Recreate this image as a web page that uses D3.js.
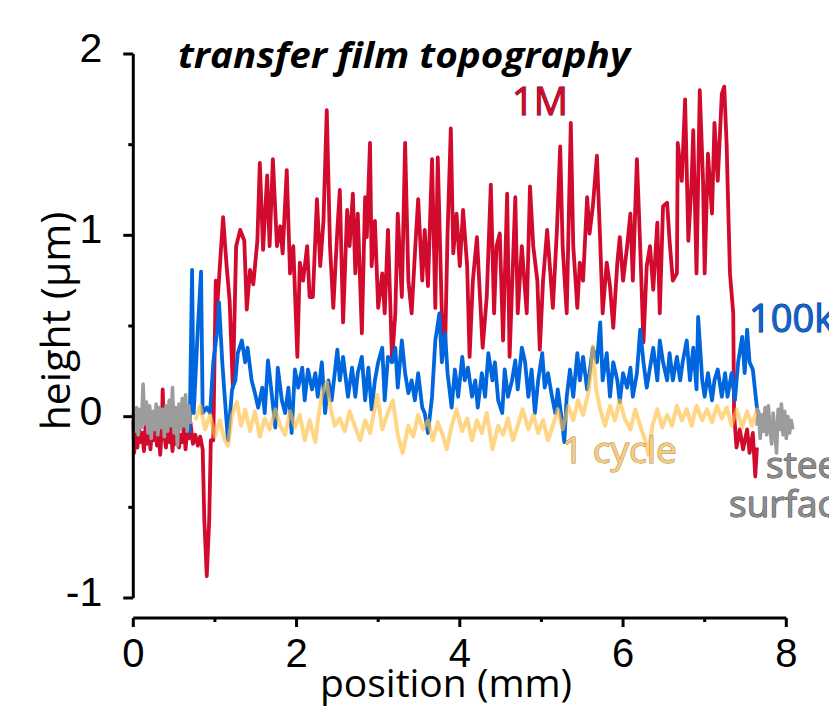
<!DOCTYPE html>
<html><head><meta charset="utf-8">
<script src="https://cdn.jsdelivr.net/npm/d3@7"></script>
<style>html,body{margin:0;padding:0;background:#fff;}svg{display:block;}</style>
</head><body>
<script>
// ---- data (position in mm, height in µm) ----
const xTicks = [0, 2, 4, 6, 8];
const xMinorTicks = [1, 3, 5, 7];
const yTicks = [-1, 0, 1, 2];
const yMinorTicks = [-0.5, 0.5, 1.5];

const series1M = [
[0.00,-0.02],[0.01,-0.20],[0.03,-0.08],[0.05,-0.17],[0.07,-0.06],[0.09,-0.14],[0.11,-0.09],[0.13,-0.19],[0.15,-0.05],[0.17,-0.15],
[0.19,-0.08],[0.21,-0.18],[0.23,-0.07],[0.25,-0.13],[0.27,-0.04],[0.29,-0.16],[0.31,-0.09],[0.33,-0.21],[0.35,-0.06],[0.36,0.15],
[0.38,-0.10],[0.40,-0.17],[0.42,-0.08],[0.44,-0.14],[0.46,-0.06],[0.48,-0.19],[0.50,-0.09],[0.52,-0.15],[0.54,-0.04],[0.56,-0.17],
[0.58,-0.10],[0.60,-0.14],[0.62,-0.06],[0.64,-0.18],[0.66,-0.08],[0.68,-0.12],[0.70,-0.03],[0.73,-0.15],[0.76,-0.10],[0.79,-0.16],
[0.82,-0.11],[0.85,-0.18],[0.87,-0.57],[0.90,-0.88],
[0.93,-0.57],[0.95,-0.13],[0.98,-0.13],[1.01,0.75],[1.03,0.62],[1.10,1.10],[1.14,0.85],[1.18,0.64],[1.22,0.16],[1.26,0.94],
[1.31,1.03],[1.36,0.97],[1.39,0.59],[1.43,0.81],[1.47,0.73],[1.52,0.97],[1.55,1.40],[1.59,0.92],[1.64,1.33],[1.67,0.94],
[1.71,1.42],[1.76,0.94],[1.80,1.05],[1.83,0.90],[1.88,1.36],[1.92,0.79],[1.96,0.94],[2.01,0.33],[2.04,0.85],[2.08,0.75],
[2.13,0.94],[2.16,0.66],[2.20,0.66],[2.25,1.20],[2.29,0.83],[2.33,1.08],[2.37,1.69],[2.41,0.94],[2.45,0.60],[2.50,1.03],
[2.53,1.25],[2.57,0.52],[2.62,1.14],[2.65,0.94],[2.69,1.23],[2.72,0.79],[2.75,1.12],[2.80,0.46],[2.84,1.21],[2.86,0.99],
[2.90,1.51],[2.92,0.83],[2.96,1.08],[3.00,0.60],[3.05,0.79],[3.08,0.57],[3.12,1.03],[3.17,0.31],[3.21,0.57],[3.24,1.12],
[3.29,0.66],[3.33,1.51],[3.37,0.75],[3.41,0.57],[3.45,0.90],[3.49,1.20],[3.54,0.75],[3.57,1.03],[3.61,0.72],[3.66,1.42],
[3.70,0.60],[3.73,1.43],[3.78,0.57],[3.82,0.38],[3.85,1.01],[3.89,1.59],[3.92,0.90],[3.96,1.12],[4.00,0.83],[4.04,1.14],
[4.09,0.83],[4.12,0.33],[4.16,0.75],[4.21,0.99],[4.25,0.64],[4.28,0.38],[4.33,0.66],[4.38,1.28],[4.42,0.57],[4.45,0.94],
[4.49,1.01],[4.53,0.42],[4.58,1.23],[4.61,0.33],[4.68,1.21],[4.71,0.57],[4.76,0.94],[4.82,0.57],[4.86,1.27],[4.90,0.94],
[4.95,0.75],[4.98,0.37],[5.02,0.75],[5.07,1.03],[5.10,0.85],[5.14,0.60],[5.19,1.03],[5.23,1.49],[5.26,0.94],[5.31,0.57],
[5.36,1.62],[5.39,0.94],[5.44,0.60],[5.47,0.85],[5.51,0.75],[5.56,1.21],[5.59,1.01],[5.63,1.16],[5.68,1.44],[5.72,0.97],
[5.75,0.57],[5.80,0.85],[5.84,0.72],[5.88,0.49],[5.93,0.85],[5.96,0.99],[6.00,0.75],[6.05,0.94],[6.09,1.12],[6.12,0.75],
[6.17,1.42],[6.21,0.94],[6.25,0.41],[6.29,0.83],[6.33,0.94],[6.37,0.70],[6.42,1.07],[6.45,0.57],[6.49,1.16],[6.54,1.18],
[6.57,0.97],[6.61,0.75],[6.66,0.79],[6.67,1.51],[6.72,1.30],[6.76,1.75],[6.80,0.97],[6.84,1.30],[6.86,1.58],[6.90,0.79],
[6.94,1.80],[6.98,1.30],[7.00,0.79],[7.04,1.45],[7.09,1.12],[7.12,1.62],[7.16,1.30],[7.21,1.78],[7.24,1.82],[7.27,1.49],
[7.28,1.30],[7.31,0.79],[7.35,0.57],[7.36,0.02],[7.39,-0.17],[7.43,-0.07],[7.47,-0.18],[7.52,-0.07],[7.55,-0.20],[7.59,-0.09],
[7.62,-0.33],[7.64,-0.17]
];

const series100k = [
[0.69,-0.09],[0.72,0.81],[0.74,0.02],[0.79,0.48],[0.83,0.80],[0.85,0.02],[0.90,0.05],[0.94,0.02],[0.98,0.30],[1.03,0.48],
[1.05,0.63],[1.09,0.30],[1.12,0.11],[1.16,-0.13],[1.21,0.15],[1.25,0.20],[1.28,0.35],[1.33,0.42],[1.37,0.30],[1.40,0.38],
[1.45,0.20],[1.49,0.13],[1.53,0.05],[1.58,0.16],[1.61,0.02],[1.65,0.31],[1.70,0.11],[1.74,-0.06],[1.77,0.27],[1.82,0.09],
[1.86,0.02],[1.90,0.16],[1.94,-0.09],[1.98,0.26],[2.02,0.16],[2.07,0.27],[2.10,0.09],[2.14,0.26],[2.19,0.15],[2.23,0.24],
[2.26,0.11],[2.31,0.30],[2.35,0.02],[2.39,0.20],[2.43,0.09],[2.50,0.37],[2.53,0.20],[2.57,0.33],[2.63,0.11],[2.68,0.27],
[2.72,0.11],[2.75,0.24],[2.80,0.33],[2.84,0.09],[2.88,0.27],[2.92,0.04],[2.96,0.20],[3.00,0.30],[3.05,0.38],[3.08,0.09],
[3.12,0.33],[3.17,0.30],[3.21,0.38],[3.24,0.16],[3.29,0.42],[3.33,0.24],[3.37,0.13],[3.41,0.20],[3.45,0.09],[3.49,0.24],
[3.54,0.05],[3.57,0.02],[3.61,-0.09],[3.66,0.11],[3.70,0.42],[3.75,0.57],[3.78,0.30],[3.82,0.46],[3.85,0.24],[3.90,0.05],
[3.94,0.26],[3.98,0.11],[4.03,0.33],[4.06,0.20],[4.10,0.27],[4.15,0.11],[4.19,0.20],[4.22,0.05],[4.27,0.24],[4.31,0.11],
[4.35,0.35],[4.40,0.20],[4.43,0.30],[4.47,0.09],[4.52,0.02],[4.55,0.26],[4.59,0.11],[4.64,0.20],[4.68,0.31],[4.71,0.15],
[4.76,0.38],[4.80,0.30],[4.84,0.11],[4.88,0.26],[4.92,0.02],[4.96,0.20],[5.01,0.35],[5.04,0.16],[5.08,0.24],[5.13,0.11],
[5.17,0.02],[5.20,0.15],[5.25,-0.02],[5.28,-0.14],[5.31,0.11],[5.35,0.26],[5.39,0.11],[5.44,0.35],[5.47,0.20],[5.51,0.33],
[5.56,0.15],[5.59,0.24],[5.63,0.38],[5.68,0.30],[5.72,0.52],[5.75,0.20],[5.80,0.35],[5.84,0.11],[5.88,0.30],[5.93,0.20],
[5.96,0.08],[6.00,0.24],[6.05,0.16],[6.09,0.27],[6.12,0.11],[6.17,0.24],[6.21,0.48],[6.25,0.30],[6.29,0.16],[6.33,0.27],
[6.37,0.38],[6.42,0.20],[6.45,0.42],[6.49,0.30],[6.54,0.20],[6.57,0.35],[6.61,0.20],[6.66,0.33],[6.70,0.20],[6.73,0.30],
[6.78,0.42],[6.82,0.20],[6.86,0.38],[6.90,0.15],[6.92,0.55],[6.97,0.20],[7.00,0.11],[7.04,0.24],[7.09,0.09],[7.12,0.20],
[7.16,0.26],[7.21,0.11],[7.25,0.24],[7.28,0.11],[7.33,0.24],[7.37,0.09],[7.41,0.30],[7.46,0.44],[7.49,0.24],[7.52,0.48],
[7.55,0.30],[7.59,0.26],[7.64,0.05],[7.65,0.02]
];

const series1cycle = [
[0.76,-0.02],[0.82,0.06],[0.88,-0.07],[0.94,0.01],[1.00,-0.11],[1.06,-0.02],[1.12,-0.13],[1.16,-0.16],[1.21,0.01],[1.27,0.08],
[1.32,-0.05],[1.37,0.04],[1.43,-0.08],[1.49,0.03],[1.55,-0.11],[1.61,-0.01],[1.67,-0.07],[1.74,0.04],[1.80,-0.05],[1.86,-0.10],
[1.92,0.03],[1.98,-0.06],[2.04,0.01],[2.10,-0.13],[2.16,-0.02],[2.23,-0.14],[2.26,-0.02],[2.31,0.12],[2.37,0.19],[2.42,0.04],
[2.47,-0.05],[2.53,-0.01],[2.59,-0.08],[2.65,0.03],[2.72,-0.06],[2.78,-0.13],[2.84,-0.02],[2.90,-0.09],[2.99,0.12],[3.05,-0.07],
[3.11,0.01],[3.18,0.09],[3.24,-0.10],[3.30,-0.20],[3.37,-0.05],[3.43,-0.11],[3.49,0.01],[3.55,-0.07],[3.61,-0.02],[3.67,-0.13],
[3.73,-0.03],[3.79,-0.10],[3.84,-0.18],[3.90,-0.05],[3.96,0.04],[4.03,-0.08],[4.09,-0.01],[4.15,-0.13],[4.21,-0.02],[4.27,-0.09],
[4.33,0.02],[4.40,-0.18],[4.47,-0.05],[4.53,-0.10],[4.59,-0.01],[4.65,-0.13],[4.71,-0.05],[4.77,0.04],[4.84,-0.07],[4.90,0.01],
[4.96,-0.09],[5.02,-0.02],[5.08,-0.13],[5.14,-0.05],[5.20,0.04],[5.26,-0.07],[5.33,0.06],[5.39,-0.02],[5.45,0.09],[5.51,0.01],
[5.57,0.12],[5.61,0.26],[5.63,0.39],[5.67,0.15],[5.72,0.04],[5.78,-0.05],[5.84,0.06],[5.90,-0.02],[5.96,0.09],[6.02,-0.01],
[6.09,-0.07],[6.15,0.04],[6.21,-0.05],[6.27,-0.13],[6.31,-0.21],[6.36,-0.05],[6.42,0.04],[6.48,-0.06],[6.54,0.01],[6.60,-0.05],
[6.66,0.06],[6.72,-0.02],[6.78,0.04],[6.84,-0.05],[6.90,0.06],[6.97,-0.02],[7.03,0.04],[7.09,-0.03],[7.15,0.06],[7.21,-0.01],
[7.27,0.05],[7.33,-0.05],[7.39,0.04],[7.46,-0.06],[7.52,0.03],[7.58,-0.05],[7.64,0.04],[7.70,-0.02]
];

const seriesSteelLeft = [
[0.00,0.02],[0.02,-0.08],[0.04,0.05],[0.06,-0.10],[0.08,0.04],[0.10,-0.06],[0.12,0.18],[0.14,-0.04],[0.16,0.08],[0.18,-0.09],
[0.20,0.06],[0.22,-0.12],[0.24,0.03],[0.26,-0.07],[0.28,0.07],[0.30,-0.10],[0.32,0.05],[0.34,-0.06],[0.36,0.04],[0.38,-0.11],
[0.40,0.06],[0.42,-0.08],[0.44,0.09],[0.46,-0.05],[0.48,0.16],[0.50,-0.09],[0.52,0.05],[0.54,-0.16],[0.56,0.07],[0.58,-0.07],
[0.60,0.10],[0.62,-0.05],[0.64,0.12],[0.66,-0.08],[0.68,0.06],[0.70,-0.04]
];
const seriesSteelRight = [
[7.64,-0.05],[7.66,0.03],[7.68,-0.12],[7.70,0.01],[7.72,-0.08],[7.74,0.05],[7.76,-0.10],[7.78,0.06],[7.80,-0.06],[7.82,-0.15],
[7.84,0.02],[7.86,-0.09],[7.88,-0.20],[7.90,0.04],[7.92,-0.07],[7.94,0.07],[7.96,-0.10],[7.98,0.03],[8.00,-0.12],[8.02,0.00],
[8.04,-0.09],[8.06,-0.02],[8.08,-0.07]
];

// ---- drawing ----
const W = 829, H = 719;
const svg = d3.select("body").append("svg").attr("width", W).attr("height", H)
  .style("font-family", "'Liberation Sans', Arial, sans-serif");
svg.append("rect").attr("width", W).attr("height", H).attr("fill", "#fff");

const x = d3.scaleLinear().domain([0, 8]).range([133.3, 786.3]);
const y = d3.scaleLinear().domain([-1, 2]).range([598, 54]);

const line = d3.line().x(d => x(d[0])).y(d => y(d[1]));

const g = svg.append("g");
g.append("path").datum(series1M).attr("d", line).attr("fill", "none")
  .attr("stroke", "#d20a2e").attr("stroke-width", 3.8).attr("stroke-linejoin", "round");
g.append("path").datum(series100k).attr("d", line).attr("fill", "none")
  .attr("stroke", "#0066dd").attr("stroke-width", 3.8).attr("stroke-linejoin", "round");
g.append("path").datum(series1cycle).attr("d", line).attr("fill", "none")
  .attr("stroke", "#ffbf45").attr("stroke-opacity", 0.65).attr("stroke-width", 4).attr("stroke-linejoin", "round");
[seriesSteelLeft, seriesSteelRight].forEach(s => {
  g.append("path").datum(s).attr("d", line).attr("fill", "none")
    .attr("stroke", "#9c9c9c").attr("stroke-width", 3.6).attr("stroke-linejoin", "round");
});

// y axis
const yAxisG = svg.append("g").attr("transform", `translate(${x(0)},0)`);
yAxisG.append("line").attr("x1", 0).attr("x2", 0).attr("y1", y(2)).attr("y2", y(-1))
  .attr("stroke", "#000").attr("stroke-width", 3);
yAxisG.selectAll(".maj").data(yTicks).join("line")
  .attr("x1", -10).attr("x2", 0).attr("y1", d => y(d)).attr("y2", d => y(d))
  .attr("stroke", "#000").attr("stroke-width", 3);
yAxisG.selectAll(".min").data(yMinorTicks).join("line").attr("class","min")
  .attr("x1", -5).attr("x2", 0).attr("y1", d => y(d)).attr("y2", d => y(d))
  .attr("stroke", "#000").attr("stroke-width", 3);
yAxisG.selectAll("text").data(yTicks).join("text")
  .attr("x", -31).attr("y", d => y(d) + 8).attr("text-anchor", "end")
  .attr("font-size", 41).attr("fill", "#000").text(d => d);

// x axis
const xAxisY = 618;
const xAxisG = svg.append("g").attr("transform", `translate(0,${xAxisY})`);
xAxisG.append("line").attr("x1", x(0)).attr("x2", x(8)).attr("y1", 0).attr("y2", 0)
  .attr("stroke", "#000").attr("stroke-width", 3);
xAxisG.selectAll(".maj").data(xTicks).join("line")
  .attr("x1", d => x(d)).attr("x2", d => x(d)).attr("y1", 0).attr("y2", 9)
  .attr("stroke", "#000").attr("stroke-width", 3);
xAxisG.selectAll(".min").data(xMinorTicks).join("line").attr("class","min")
  .attr("x1", d => x(d)).attr("x2", d => x(d)).attr("y1", 0).attr("y2", 4)
  .attr("stroke", "#000").attr("stroke-width", 3);
xAxisG.selectAll("text").data(xTicks).join("text")
  .attr("x", d => x(d)).attr("y", 49).attr("text-anchor", "middle")
  .attr("font-size", 40).attr("fill", "#000").text(d => d);

// axis titles
const sans2 = "'Open Sans', 'Noto Sans', sans-serif";
svg.append("text").attr("x", 446).attr("y", 697).attr("text-anchor", "middle")
  .style("font-family", sans2).attr("font-size", 39).attr("fill", "#000")
  .text("position (mm)");
svg.append("text").attr("transform", "translate(70,321) rotate(-90)").attr("text-anchor", "middle")
  .style("font-family", sans2).attr("font-size", 41).attr("fill", "#000")
  .text("height (μm)");

// title
svg.append("text").attr("x", 178).attr("y", 68)
  .style("font-family", sans2).attr("font-size", 35).attr("font-weight", "bold").attr("font-style", "italic")
  .attr("textLength", 452).attr("lengthAdjust", "spacingAndGlyphs")
  .attr("fill", "#000").text("transfer film topography");

// series labels
function lab(t, xx, yy, fill, stroke, fs) {
  svg.append("text").attr("x", xx).attr("y", yy)
    .style("font-family", sans2).attr("font-size", fs)
    .attr("fill", fill).attr("stroke", stroke).attr("stroke-width", 1)
    .style("paint-order", "stroke").text(t);
}
lab("1M", 512, 115, "#d20a2e", "#5a0012", 38);
lab("100k", 749, 332, "#0a64d6", "#0a2a60", 38);
lab("1 cycle", 562, 463, "#f7cd7c", "#a8864a", 37);
lab("steel", 766, 478, "#8c8c8c", "#4a4a4a", 37);
lab("surface", 729, 517, "#8c8c8c", "#4a4a4a", 37);
</script>
</body></html>
